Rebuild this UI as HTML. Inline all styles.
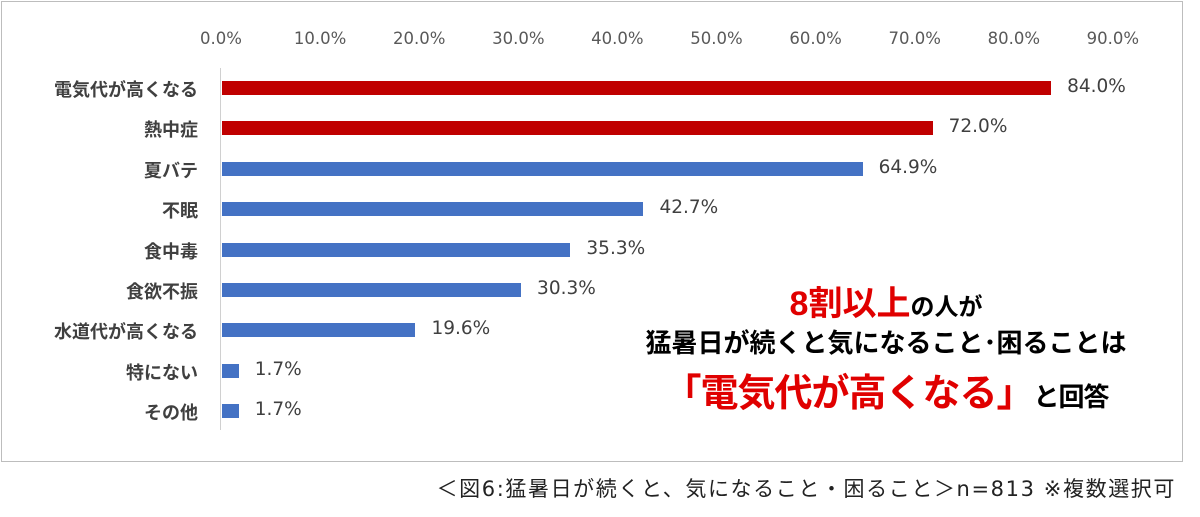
<!DOCTYPE html>
<html><head><meta charset="utf-8"><style>
body{margin:0;width:1200px;height:517px;background:#fff;position:relative;overflow:hidden;font-family:"Liberation Sans","Noto Sans CJK JP",sans-serif}
.box{position:absolute;left:1px;top:1px;width:1180px;height:459px;border:1px solid #bdbdbd}
.t{position:absolute;font-family:"DejaVu Sans",sans-serif;font-size:16.5px;color:#595959;transform:translateX(-50%);top:29px}
.lab{position:absolute;right:1002px;font-size:18px;font-weight:bold;color:#404040;white-space:nowrap}
.bar{position:absolute;left:222px;height:14px}
.v{position:absolute;font-family:"DejaVu Sans",sans-serif;font-size:18.5px;color:#404040}
.ann{position:absolute;left:586px;width:600px;text-align:center;font-weight:bold;white-space:nowrap}
</style></head><body>
<div class="box"></div>
<div style="position:absolute;left:220px;top:68px;width:1px;height:362px;background:#d0d0d0"></div>
<div id="c"></div>
<div class="ann" style="top:276px;font-size:24px;color:#000"><span style="color:#e00000;font-size:34px">8割以上</span>の人が</div>
<div class="ann" style="top:323px;font-size:26px;color:#000">猛暑日が続くと気になること･困ることは</div>
<div class="ann" style="top:362px;font-size:26px;color:#000;letter-spacing:-1px"><span style="color:#e00000;font-size:38px">「電気代が高くなる」</span>と回答</div>
<div style="position:absolute;right:24px;top:473px;font-family:'DejaVu Sans','Noto Sans CJK JP',sans-serif;font-size:21px;letter-spacing:1.6px;color:#222;white-space:nowrap">＜図6:猛暑日が続くと、気になること・困ること＞n=813 ※複数選択可</div>
<script>
var c=document.getElementById('c'),h='';
for(var i=0;i<10;i++)h+='<div class="t" style="left:'+(221+i*99.1)+'px">'+(i*10)+'.0%</div>';
var d=[["電気代が高くなる",84,1],["熱中症",72,1],["夏バテ",64.9],["不眠",42.7],["食中毒",35.3],["食欲不振",30.3],["水道代が高くなる",19.6],["特にない",1.7],["その他",1.7]];
d.forEach(function(r,i){var y=88+i*40.4;var w=r[1]*9.87;
h+='<div class="lab" style="top:'+(y-12)+'px">'+r[0]+'</div>';
h+='<div class="bar" style="top:'+(y-7)+'px;width:'+w+'px;background:'+(r[2]?'#c00000':'#4472c4')+'"></div>';
h+='<div class="v" style="top:'+(y-12)+'px;left:'+(222+w+16)+'px">'+r[1].toFixed(1)+'%</div>';});
c.innerHTML=h;
</script>
</body></html>
